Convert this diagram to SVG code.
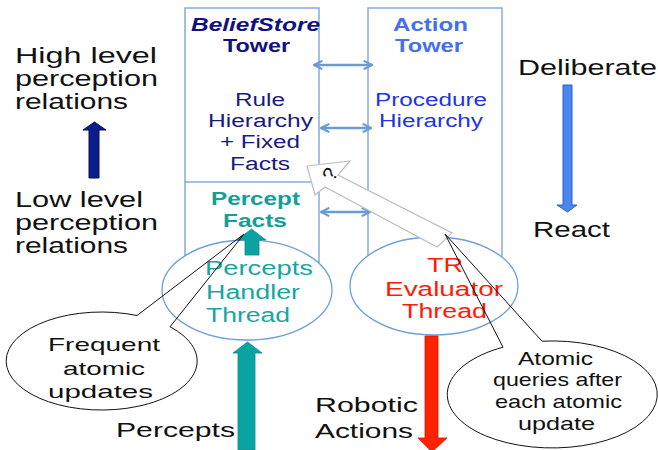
<svg xmlns="http://www.w3.org/2000/svg" width="658" height="450" viewBox="0 0 658 450">
  <defs>
    <style>
      text { font-family: "Liberation Sans", Arial, sans-serif; }
      .side { font-size: 22px; fill: #111; }
      .big { font-size: 21px; fill: #111; }
      .note { font-size: 19px; fill: #111; }
      .tower { fill: none; stroke: #86abda; stroke-width: 1.5; }
      .hdr { font-size: 19px; font-weight: bold; }
      .body { font-size: 18px; }
      .thread { fill: #fff; stroke: #6f9fd6; stroke-width: 1.3; }
      .ttxt { font-size: 20px; }
      .link { stroke: #6b9bd2; stroke-width: 2.6; fill: none; marker-start: url(#chev); marker-end: url(#chev); }
      .callout { fill: none; stroke: #111; stroke-width: 1; }
    </style>
    <marker id="chev" viewBox="0 0 10 10" refX="9" refY="5" markerWidth="4" markerHeight="4" orient="auto-start-reverse" markerUnits="strokeWidth">
      <path d="M1,1 L9,5 L1,9" fill="none" stroke="#6b9bd2" stroke-width="2" stroke-linejoin="miter"/>
    </marker>
  </defs>

  <rect width="658" height="450" fill="#fff"/>

  <!-- side annotations -->
  <g id="perception-levels">
    <text class="side" x="15" y="63" textLength="142" lengthAdjust="spacingAndGlyphs">High level</text>
    <text class="side" x="15" y="86" textLength="143" lengthAdjust="spacingAndGlyphs">perception</text>
    <text class="side" x="15" y="109" textLength="113" lengthAdjust="spacingAndGlyphs">relations</text>
    <polygon points="89,178 99,178 99,130 106,130 94.5,122 83,130 89,130" fill="#0b1c8c" stroke="#06104f" stroke-width="1"/>
    <text class="side" x="15" y="207" textLength="128" lengthAdjust="spacingAndGlyphs">Low level</text>
    <text class="side" x="15" y="230" textLength="143" lengthAdjust="spacingAndGlyphs">perception</text>
    <text class="side" x="15" y="253" textLength="113" lengthAdjust="spacingAndGlyphs">relations</text>
  </g>

  <g id="deliberation-levels">
    <text class="side" x="518" y="75" textLength="139" lengthAdjust="spacingAndGlyphs">Deliberate</text>
    <polygon points="563,85 572,85 572,205 577,205 567.5,212 557,205 563,205" fill="#4a86f2" stroke="#2f5fb8" stroke-width="1"/>
    <text class="side" x="533" y="237" textLength="77" lengthAdjust="spacingAndGlyphs">React</text>
  </g>

  <!-- BeliefStore tower -->
  <g id="beliefstore-tower">
    <rect class="tower" x="185" y="8" width="134" height="254"/>
    <line class="tower" x1="185" y1="182" x2="319" y2="182"/>
    <text class="hdr" x="191" y="30.5" fill="#12127e" font-style="italic" textLength="129" lengthAdjust="spacingAndGlyphs">BeliefStore</text>
    <text class="hdr" x="223" y="51.5" fill="#12127e" textLength="67" lengthAdjust="spacingAndGlyphs">Tower</text>
    <text class="body" x="235" y="106" fill="#1a1a7e" textLength="50" lengthAdjust="spacingAndGlyphs">Rule</text>
    <text class="body" x="208" y="127" fill="#1a1a7e" textLength="105" lengthAdjust="spacingAndGlyphs">Hierarchy</text>
    <text class="body" x="220" y="148" fill="#1a1a7e" textLength="80" lengthAdjust="spacingAndGlyphs">+ Fixed</text>
    <text class="body" x="230" y="170" fill="#1a1a7e" textLength="60" lengthAdjust="spacingAndGlyphs">Facts</text>
    <text class="body" x="211" y="205" fill="#139e96" font-weight="bold" textLength="89" lengthAdjust="spacingAndGlyphs">Percept</text>
    <text class="body" x="223" y="227" fill="#139e96" font-weight="bold" textLength="64" lengthAdjust="spacingAndGlyphs">Facts</text>
  </g>

  <!-- Action tower -->
  <g id="action-tower">
    <rect class="tower" x="368" y="8" width="134" height="254"/>
    <text class="hdr" x="393" y="30.5" fill="#4470f0" textLength="75" lengthAdjust="spacingAndGlyphs">Action</text>
    <text class="hdr" x="395" y="51.5" fill="#4470f0" textLength="68" lengthAdjust="spacingAndGlyphs">Tower</text>
    <text class="body" x="375" y="106" fill="#2233e6" textLength="112" lengthAdjust="spacingAndGlyphs">Procedure</text>
    <text class="body" x="379" y="127" fill="#2233e6" textLength="104" lengthAdjust="spacingAndGlyphs">Hierarchy</text>
  </g>

  <!-- links between the towers -->
  <g id="connectors">
    <line class="link" x1="314" y1="65" x2="372" y2="65"/>
    <line class="link" x1="321" y1="128" x2="371" y2="128"/>
    <line class="link" x1="321" y1="212" x2="370" y2="212"/>
  </g>

  <!-- threads -->
  <g id="percepts-handler">
    <ellipse class="thread" cx="247" cy="290" rx="85" ry="50"/>
    <text class="ttxt" x="205" y="275" fill="#17a5a0" textLength="108" lengthAdjust="spacingAndGlyphs">Percepts</text>
    <text class="ttxt" x="206" y="299" fill="#17a5a0" textLength="94" lengthAdjust="spacingAndGlyphs">Handler</text>
    <text class="ttxt" x="206" y="322" fill="#17a5a0" textLength="84" lengthAdjust="spacingAndGlyphs">Thread</text>
  </g>

  <g id="tr-evaluator">
    <ellipse class="thread" cx="434" cy="286" rx="84" ry="49"/>
    <text class="ttxt" x="427" y="271.5" fill="#ff1a0a" textLength="36" lengthAdjust="spacingAndGlyphs">TR</text>
    <text class="ttxt" x="385" y="296" fill="#ff1a0a" textLength="118" lengthAdjust="spacingAndGlyphs">Evaluator</text>
    <text class="ttxt" x="402" y="318" fill="#ff1a0a" textLength="85" lengthAdjust="spacingAndGlyphs">Thread</text>
  </g>

  <!-- update flow into the percept facts -->
  <g id="percept-update">
    <polygon points="245,255 259,255 259,240 266,240 251.5,229 237,240 245,240" fill="#0ba3a2" stroke="#0a8c8a" stroke-width="0.8"/>
  </g>

  <!-- query arrow from the evaluator into the belief store -->
  <g id="query">
    <polygon points="307,166 350,161 338,175 452,233 437,247 325,187 315,195" fill="#fff" stroke="#bdbdbd" stroke-width="1.2" stroke-linejoin="miter"/>
    <text x="330" y="181" font-size="20" fill="#111" text-anchor="middle" transform="rotate(-62 330 174)">?</text>
  </g>

  <!-- input and output -->
  <g id="percepts-in">
    <polygon points="238,450 255,450 255,353 262,353 247.5,342 233,353 238,353" fill="#0aa3a3" stroke="#088a8a" stroke-width="0.8"/>
    <text class="big" x="116" y="437" textLength="119" lengthAdjust="spacingAndGlyphs">Percepts</text>
  </g>

  <g id="actions-out">
    <polygon points="425,336 438,336 438,438 447,438 432,452 418,438 425,438" fill="#ff2200" stroke="#d41b00" stroke-width="0.8"/>
    <text class="big" x="315" y="412" textLength="103" lengthAdjust="spacingAndGlyphs">Robotic</text>
    <text class="big" x="315" y="438" textLength="98" lengthAdjust="spacingAndGlyphs">Actions</text>
  </g>

  <!-- callouts -->
  <g id="frequent-updates">
    <ellipse cx="101.5" cy="361" rx="95.5" ry="49" fill="#fff"/>
    <path class="callout" d="M137,315.5 L244,234 L170,326.8 A95.5,49 0 1,1 137,315.5 Z"/>
    <text class="note" x="48" y="351" textLength="112" lengthAdjust="spacingAndGlyphs">Frequent</text>
    <text class="note" x="63" y="375" textLength="82" lengthAdjust="spacingAndGlyphs">atomic</text>
    <text class="note" x="48" y="398" textLength="105" lengthAdjust="spacingAndGlyphs">updates</text>
  </g>

  <g id="atomic-queries">
    <ellipse cx="552" cy="394.5" rx="105" ry="53.5" fill="#fff"/>
    <path class="callout" d="M503,347.2 L445,234 L542,341.2 A105,53.5 0 1,1 503,347.2 Z"/>
    <text class="note" x="518" y="365" textLength="75" lengthAdjust="spacingAndGlyphs">Atomic</text>
    <text class="note" x="493" y="386" textLength="129" lengthAdjust="spacingAndGlyphs">queries after</text>
    <text class="note" x="495" y="408" textLength="127" lengthAdjust="spacingAndGlyphs">each atomic</text>
    <text class="note" x="518" y="430" textLength="77" lengthAdjust="spacingAndGlyphs">update</text>
  </g>
</svg>
